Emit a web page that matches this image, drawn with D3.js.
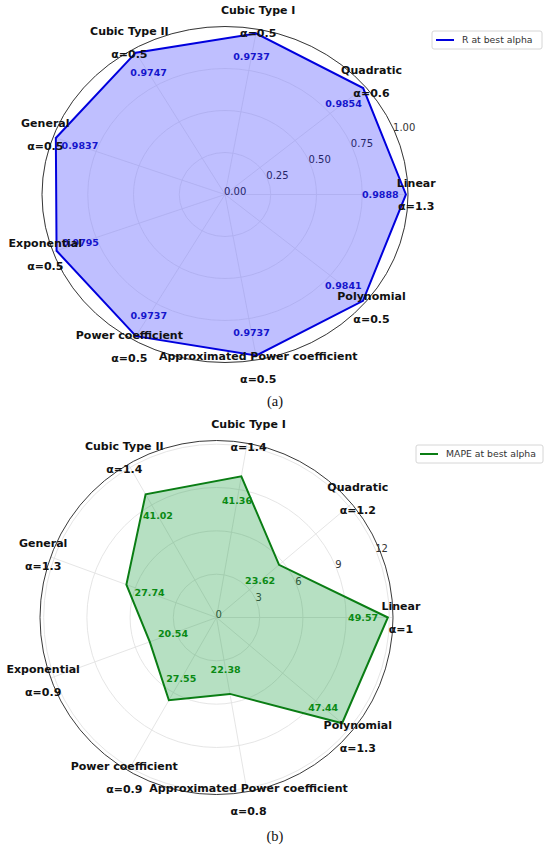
<!DOCTYPE html>
<html>
<head>
<meta charset="utf-8">
<script src="https://cdn.jsdelivr.net/npm/d3@7"></script>
<style>
  body { margin: 0; background: #fff; }
  svg { font-family: "DejaVu Sans", sans-serif; }
</style>
</head>
<body>
<script>
// categories, counter-clockwise from east
var categories = ["Linear", "Quadratic", "Cubic Type I", "Cubic Type II", "General",
                  "Exponential", "Power coefficient", "Approximated Power coefficient", "Polynomial"];

// (a) correlation at best alpha
var rValues = [0.9888, 0.9854, 0.9737, 0.9747, 0.9837, 0.9795, 0.9737, 0.9737, 0.9841];
var rAlphas = [1.3, 0.6, 0.5, 0.5, 0.5, 0.5, 0.5, 0.5, 0.5];
var rTicks = [0, 0.25, 0.5, 0.75, 1.0];
var rTickLabels = ["0.00", "0.25", "0.50", "0.75", "1.00"];

// (b) MAPE at best alpha
var mapeValues = [49.57, 23.62, 41.36, 41.02, 27.74, 20.54, 27.55, 22.38, 47.44];
var mapeAlphas = [1, 1.2, 1.4, 1.4, 1.3, 0.9, 0.9, 0.8, 1.3];
var mapeTicks = [0, 12.5, 25, 37.5, 50];
var mapeTickLabels = ["0", "3", "6", "9", "12"];

var svg = d3.select("body").append("svg")
    .attr("width", 550)
    .attr("height", 851);

function drawRadar(cfg) {
  var g = svg.append("g");
  var n = cfg.values.length;

  // separate x/y radius scales (the figure is slightly squashed)
  var sx = d3.scaleLinear().domain([0, cfg.rmax]).range([0, cfg.Rx]);
  var sy = d3.scaleLinear().domain([0, cfg.rmax]).range([0, cfg.Ry]);
  var angle = d3.scaleLinear().domain([0, n]).range([0, 2 * Math.PI]);

  function px(i, r) { return cfg.cx + sx(r) * Math.cos(angle(i)); }
  function py(i, r) { return cfg.cy - sy(r) * Math.sin(angle(i)); }

  // grid circles
  g.selectAll("ellipse.grid")
    .data(cfg.ticks.slice(1))
    .enter().append("ellipse")
      .attr("cx", cfg.cx).attr("cy", cfg.cy)
      .attr("rx", function(d) { return sx(d); })
      .attr("ry", function(d) { return sy(d); })
      .attr("fill", "none")
      .attr("stroke", cfg.gridColor)
      .attr("stroke-width", 0.9);

  // spokes
  g.selectAll("line.spoke")
    .data(d3.range(n))
    .enter().append("line")
      .attr("x1", cfg.cx).attr("y1", cfg.cy)
      .attr("x2", function(i) { return px(i, cfg.rmax); })
      .attr("y2", function(i) { return py(i, cfg.rmax); })
      .attr("stroke", cfg.gridColor)
      .attr("stroke-width", 0.9);

  // outer spine
  g.append("ellipse")
    .attr("cx", cfg.cx).attr("cy", cfg.cy)
    .attr("rx", sx(cfg.rmax)).attr("ry", sy(cfg.rmax))
    .attr("fill", "none")
    .attr("stroke", "#222")
    .attr("stroke-width", 0.9);

  // radial tick labels at 22.5 deg
  var ta = 22.5 * Math.PI / 180;
  g.selectAll("text.rtick")
    .data(cfg.ticks)
    .enter().append("text")
      .attr("x", function(d) { return cfg.cx + sx(d) * Math.cos(ta) - 1; })
      .attr("y", function(d) { return cfg.cy - sy(d) * Math.sin(ta) + 0.5; })
      .attr("font-size", "10px")
      .attr("fill", "#333")
      .text(function(d, i) { return cfg.tickLabels[i]; });

  // polygon
  var pts = cfg.values.map(function(v, i) { return [px(i, v), py(i, v)]; });
  g.append("path")
    .attr("d", d3.line().curve(d3.curveLinearClosed)(pts))
    .attr("fill", cfg.fill)
    .attr("fill-opacity", cfg.fillOpacity)
    .attr("stroke", cfg.color)
    .attr("stroke-width", 2)
    .attr("stroke-linejoin", "miter");

  // value labels, a bit inside each vertex
  g.selectAll("text.val")
    .data(cfg.values)
    .enter().append("text")
      .attr("x", function(d, i) { return px(i, d - 0.14 * cfg.rmax); })
      .attr("y", function(d, i) { return py(i, d - 0.14 * cfg.rmax); })
      .attr("dy", "0.35em")
      .attr("text-anchor", "middle")
      .attr("font-size", "9.5px")
      .attr("font-weight", "bold")
      .attr("fill", cfg.textColor)
      .text(cfg.fmt);

  // category + alpha labels
  var lab = g.selectAll("g.cat")
    .data(categories)
    .enter().append("g")
      .attr("transform", function(d, i) {
        return "translate(" + px(i, 1.045 * cfg.rmax) + "," + py(i, 1.045 * cfg.rmax) + ")";
      });
  lab.append("text")
    .attr("y", -11.5).attr("dy", "0.35em")
    .attr("text-anchor", "middle")
    .attr("font-size", "11px").attr("font-weight", "bold")
    .attr("fill", "#111")
    .text(function(d) { return d; });
  lab.append("text")
    .attr("y", 11.5).attr("dy", "0.35em")
    .attr("text-anchor", "middle")
    .attr("font-size", "11px").attr("font-weight", "bold")
    .attr("fill", "#111")
    .text(function(d, i) { return "\u03b1=" + cfg.alphas[i]; });

  // legend
  var lg = svg.append("g").attr("transform", "translate(" + cfg.legX + "," + cfg.legY + ")");
  lg.append("rect")
    .attr("width", cfg.legW).attr("height", 18)
    .attr("rx", 2)
    .attr("fill", "#fff")
    .attr("stroke", "#d6d6d6");
  lg.append("line")
    .attr("x1", 4).attr("x2", 22).attr("y1", 9).attr("y2", 9)
    .attr("stroke", cfg.color).attr("stroke-width", 2);
  lg.append("text")
    .attr("x", 30).attr("y", 9).attr("dy", "0.35em")
    .attr("font-size", "9.3px").attr("fill", "#333")
    .text(cfg.legend);

  // caption
  svg.append("text")
    .attr("x", 275).attr("y", cfg.capY)
    .attr("text-anchor", "middle")
    .attr("font-family", "'Liberation Serif', serif")
    .attr("font-size", "14.5px")
    .attr("fill", "#111")
    .text(cfg.caption);
}

drawRadar({
  values: rValues, alphas: rAlphas, ticks: rTicks, tickLabels: rTickLabels,
  rmax: 1.0, cx: 225, cy: 194.5, Rx: 183, Ry: 168,
  color: "#0000dd", fill: "#0000ff", fillOpacity: 0.25, textColor: "#1515cc",
  gridColor: "#ebebeb",
  fmt: function(d) { return d.toFixed(4); },
  legend: "R at best alpha", legX: 432, legY: 31, legW: 110,
  caption: "(a)", capY: 406
});

drawRadar({
  values: mapeValues, alphas: mapeAlphas, ticks: mapeTicks, tickLabels: mapeTickLabels,
  rmax: 51.06, cx: 216.5, cy: 617.5, Rx: 176.5, Ry: 177,
  color: "#0a7d14", fill: "#21a047", fillOpacity: 0.33, textColor: "#0a8a14",
  gridColor: "#e2e2e2",
  fmt: function(d) { return d.toFixed(2); },
  legend: "MAPE at best alpha", legX: 416, legY: 445, legW: 127,
  caption: "(b)", capY: 841
});
</script>
</body>
</html>
